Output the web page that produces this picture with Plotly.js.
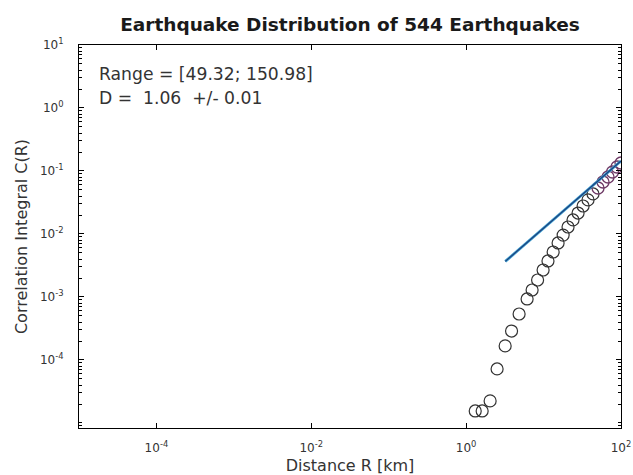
<!DOCTYPE html>
<html>
<head>
<meta charset="utf-8">
<script src="https://cdn.plot.ly/plotly-3.0.1.min.js"></script>
<style>html,body{margin:0;padding:0;background:#fff;}</style>
</head>
<body>
<div id="chart" style="width:633px;height:475px;"></div>
<script>
// Correlation integral C(R) versus distance R
const distanceR = [1.31, 1.61, 2.04, 2.51, 3.19, 3.86, 4.83, 6.13, 7.11, 8.37, 9.86, 11.4, 13.3, 15.4, 17.9, 20.7, 24.0, 27.9, 32.4, 37.5, 43.5, 50.5, 58.6, 68.0, 77.6, 88.7, 100];
const corrC = [1.55e-5, 1.55e-5, 2.24e-5, 7.2e-5, 1.67e-4, 2.88e-4, 5.37e-4, 9.3e-4, 1.29e-3, 1.86e-3, 2.68e-3, 3.73e-3, 5.18e-3, 7.2e-3, 9.6e-3, 0.0129, 0.0167, 0.0215, 0.0278, 0.0347, 0.0432, 0.0537, 0.0668, 0.0803, 0.0964, 0.1157, 0.134];
// Fitted power law line (slope D)
const fitR = [3.2, 100];
const fitC = [0.00367, 0.144];
const rangeLo = 49.32, rangeHi = 150.98;
const dValue = 1.06, dErr = 0.01;
const nQuakes = 544;
// Tick labels
const xTickVals = [1e-4, 1e-2, 1, 100];
const xTickText = ['10<sup>-4</sup>', '10<sup>-2</sup>', '10<sup>0</sup>', '10<sup>2</sup>'];
const yTickVals = [1e-4, 1e-3, 1e-2, 1e-1, 1, 10];
const yTickText = ['10<sup>-4</sup>', '10<sup>-3</sup>', '10<sup>-2</sup>', '10<sup>-1</sup>', '10<sup>0</sup>', '10<sup>1</sup>'];

const FONT = 'DejaVu Sans, Liberation Sans, Arial, sans-serif';

const outR = [], outC = [], inR = [], inC = [];
distanceR.forEach((r, i) => {
  if (r >= rangeLo && r <= rangeHi) { inR.push(r); inC.push(corrC[i]); }
  else { outR.push(r); outC.push(corrC[i]); }
});

const traces = [
  { x: outR, y: outC, type: 'scatter', mode: 'markers',
    marker: { symbol: 'circle-open', size: 12, color: '#333', line: { width: 1.2, color: '#333' } },
    hoverinfo: 'skip', showlegend: false },
  { x: inR, y: inC, type: 'scatter', mode: 'markers',
    marker: { symbol: 'circle-open', size: 12, color: '#6e3a66', line: { width: 1.3, color: '#6e3a66' } },
    hoverinfo: 'skip', showlegend: false },
  { x: fitR, y: fitC, type: 'scatter', mode: 'lines',
    line: { color: '#3b9fd0', width: 2.8 }, hoverinfo: 'skip', showlegend: false },
  { x: fitR, y: fitC, type: 'scatter', mode: 'lines',
    line: { color: '#1d3f7c', width: 1.2 }, hoverinfo: 'skip', showlegend: false }
];

const axisCommon = {
  type: 'log', showgrid: false, zeroline: false,
  showline: true, linecolor: '#000', linewidth: 1, mirror: 'ticks',
  ticks: 'inside', ticklen: 5, tickcolor: '#000', tickwidth: 1,
  tickmode: 'array',
  tickfont: { family: FONT, size: 12, color: '#333' }
};

const plotTop = 45, plotBottom = 428;
const layout = {
  width: 633, height: 475,
  margin: { l: 79, r: 12, t: plotTop, b: 475 - plotBottom },
  paper_bgcolor: '#fff', plot_bgcolor: '#fff',
  title: {
    text: 'Earthquake Distribution of ' + nQuakes + ' Earthquakes',
    font: { family: FONT, size: 18.5, color: '#1a1a1a', weight: 'bold' },
    x: 0.5, xref: 'paper', xanchor: 'center',
    y: 1 - 25 / 475, yref: 'container', yanchor: 'middle'
  },
  xaxis: Object.assign({}, axisCommon, {
    range: [-5, 2],
    tickvals: xTickVals, ticktext: xTickText,
    ticklabelstandoff: 9,
    title: { text: 'Distance R [km]', font: { family: FONT, size: 16, color: '#333' }, standoff: 6 }
  }),
  yaxis: Object.assign({}, axisCommon, {
    range: [-5.08, 1],
    tickvals: yTickVals, ticktext: yTickText,
    ticklabelstandoff: 12,
    minor: { dtick: 'D1', ticks: 'inside', ticklen: 3, tickcolor: '#000', showgrid: false },
    title: { text: 'Correlation Integral C(R)', font: { family: FONT, size: 16, color: '#333' }, standoff: 8 }
  }),
  annotations: [
    { text: 'Range = [' + rangeLo.toFixed(2) + '; ' + rangeHi.toFixed(2) + ']',
      xref: 'paper', yref: 'paper', x: 0.033, y: (plotBottom - 74) / (plotBottom - plotTop),
      xanchor: 'left', yanchor: 'middle', showarrow: false,
      font: { family: FONT, size: 17.2, color: '#333' } },
    { text: 'D =\u00A0 ' + dValue.toFixed(2) + ' \u00A0+/- ' + dErr.toFixed(2),
      xref: 'paper', yref: 'paper', x: 0.033, y: (plotBottom - 98) / (plotBottom - plotTop),
      xanchor: 'left', yanchor: 'middle', showarrow: false,
      font: { family: FONT, size: 17.2, color: '#333' } }
  ]
};

Plotly.newPlot('chart', traces, layout, { staticPlot: true, displayModeBar: false });
</script>
</body>
</html>
